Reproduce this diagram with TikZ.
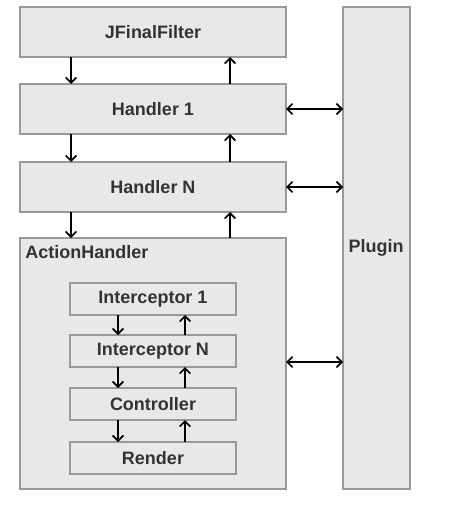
\documentclass[tikz,border=0pt]{standalone}
\usepackage{fontspec}
\setmainfont{Liberation Sans}
\usetikzlibrary{arrows.meta}
\definecolor{boxfill}{HTML}{E8E8E8}
\definecolor{boxline}{HTML}{999999}
\definecolor{txt}{HTML}{333333}
\begin{document}
\begin{tikzpicture}[x=0.75pt,y=-0.75pt,
  blk/.style={draw=boxline,fill=boxfill,line width=1.5pt,rectangle,inner sep=0pt},
  lbl/.style={font=\fontsize{13.5}{15}\selectfont\bfseries,text=txt},
  arr/.style={line width=1.3pt,-{Straight Barb[length=4pt,width=8pt]}},
  darr/.style={line width=1.3pt,{Straight Barb[length=4pt,width=8pt]}-{Straight Barb[length=4pt,width=8pt]}}]
\useasboundingbox (0,0) rectangle (454,506);
% main boxes
\draw[blk] (20,7) rectangle (286,57);
\node[lbl] (jf) at (153,32) {JFinalFilter};
\draw[blk] (20,84) rectangle (286,134);
\node[lbl] (h1) at (153,109) {Handler 1};
\draw[blk] (20,162) rectangle (286,212);
\node[lbl] (hn) at (153,187) {Handler N};
\draw[blk] (20,238) rectangle (286,489);
\node[lbl,anchor=west,inner sep=0pt] (ah) at (25,252) {ActionHandler};
\draw[blk] (343,7) rectangle (410,489);
\node[lbl] (pl) at (376,248) {Plugin};
% inner boxes
\draw[blk] (70,283) rectangle (236,315);
\node[lbl] (i1) at (153,299) {Interceptor 1};
\draw[blk] (70,335) rectangle (236,367);
\node[lbl] (in) at (153,351) {Interceptor N};
\draw[blk] (70,388) rectangle (236,420);
\node[lbl] (ct) at (153,404) {Controller};
\draw[blk] (70,442) rectangle (236,474);
\node[lbl] (rd) at (153,458) {Render};
% coordinates for connectors
\coordinate (a1) at (71,57);  \coordinate (a2) at (71,84);
\coordinate (a3) at (71,134); \coordinate (a4) at (71,162);
\coordinate (a5) at (71,212); \coordinate (a6) at (71,238);
\coordinate (b1) at (230,84);  \coordinate (b2) at (230,57);
\coordinate (b3) at (230,162); \coordinate (b4) at (230,134);
\coordinate (b5) at (230,238); \coordinate (b6) at (230,212);
\draw[arr] (a1) -- (a2);
\draw[arr] (a3) -- (a4);
\draw[arr] (a5) -- (a6);
\draw[arr] (b1) -- (b2);
\draw[arr] (b3) -- (b4);
\draw[arr] (b5) -- (b6);
% inner arrows
\coordinate (c1) at (118,315); \coordinate (c2) at (118,335);
\coordinate (c3) at (118,367); \coordinate (c4) at (118,388);
\coordinate (c5) at (118,420); \coordinate (c6) at (118,442);
\coordinate (d1) at (185,335); \coordinate (d2) at (185,315);
\coordinate (d3) at (185,388); \coordinate (d4) at (185,367);
\coordinate (d5) at (185,442); \coordinate (d6) at (185,420);
\draw[arr] (c1) -- (c2);
\draw[arr] (c3) -- (c4);
\draw[arr] (c5) -- (c6);
\draw[arr] (d1) -- (d2);
\draw[arr] (d3) -- (d4);
\draw[arr] (d5) -- (d6);
% plugin double arrows
\coordinate (p1a) at (286,109); \coordinate (p1b) at (343,109);
\coordinate (p2a) at (286,187); \coordinate (p2b) at (343,187);
\coordinate (p3a) at (286,362); \coordinate (p3b) at (343,362);
\draw[darr] (p1a) -- (p1b);
\draw[darr] (p2a) -- (p2b);
\draw[darr] (p3a) -- (p3b);
\end{tikzpicture}
\end{document}
